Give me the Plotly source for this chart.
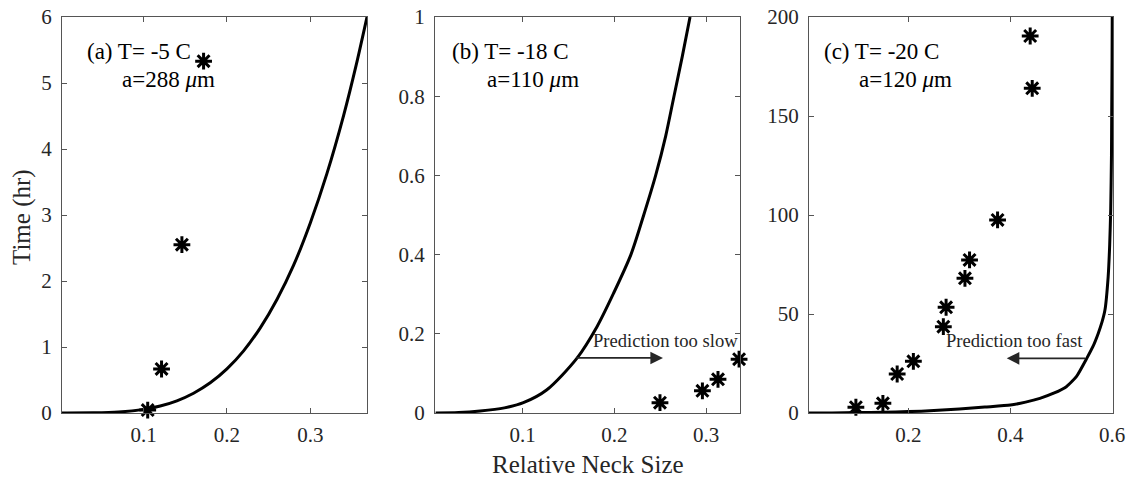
import plotly.graph_objects as go

# ---------------- data ----------------
# Panel (a) T=-5 C, a=288 um
a_curve_x = [0.002, 0.04, 0.07, 0.10, 0.12, 0.14, 0.16, 0.18, 0.20, 0.22, 0.24, 0.26, 0.28,
             0.30, 0.32, 0.34, 0.355, 0.368]
a_curve_y = [0.0, 0.002, 0.015, 0.055, 0.106, 0.185, 0.30, 0.457, 0.668, 0.942, 1.29, 1.72, 2.24,
             2.88, 3.63, 4.51, 5.27, 6.0]
a_pts_x = [0.105, 0.1216, 0.146, 0.172]
a_pts_y = [0.045, 0.667, 2.55, 5.33]

# Panel (b) T=-18 C, a=110 um
b_curve_x = [0.005, 0.03, 0.0535, 0.08, 0.1007, 0.126, 0.159, 0.181, 0.199, 0.218, 0.232, 0.245, 0.256, 0.265, 0.274, 0.2825]
b_curve_y = [0.0, 0.001, 0.005, 0.013, 0.026, 0.058, 0.138, 0.218, 0.302, 0.40, 0.50, 0.60, 0.70, 0.80, 0.90, 1.0]
b_pts_x = [0.2497, 0.296, 0.313, 0.336]
b_pts_y = [0.026, 0.056, 0.085, 0.136]

# Panel (c) T=-20 C, a=120 um
c_curve_x = [0.005, 0.05, 0.1, 0.15, 0.2, 0.25, 0.3, 0.35, 0.4, 0.43, 0.458, 0.485, 0.51, 0.53, 0.55,
             0.562, 0.5725, 0.58, 0.5857, 0.592, 0.595, 0.597, 0.5985, 0.599, 0.5997, 0.6]
c_curve_y = [0.0, 0.05, 0.2, 0.4, 0.7, 1.2, 2.0, 3.0, 4.0, 5.5, 7.4, 10.0, 13.3, 18.5, 27.6,
             33.5, 40.2, 46.0, 52.0, 68.8, 85.0, 102.5, 130.0, 153.0, 180.0, 200.0]
c_pts_x = [0.097, 0.150, 0.178, 0.2098, 0.2686, 0.274, 0.311, 0.320, 0.375, 0.439, 0.443]
c_pts_y = [2.9, 4.9, 19.7, 26.1, 43.6, 53.4, 68.0, 77.3, 97.5, 190.4, 164.0]

x_ticks_ab = [0.1, 0.2, 0.3]
x_ticks_c = [0.2, 0.4, 0.6]
y_ticks_a = [0, 1, 2, 3, 4, 5, 6]
y_ticks_b = [0, 0.2, 0.4, 0.6, 0.8, 1]
y_ticks_c = [0, 50, 100, 150, 200]

panel_labels = ["(a) T= -5 C", "(b) T= -18 C", "(c) T= -20 C"]
size_labels = ["a=288 <i>μ</i>m", "a=110 <i>μ</i>m", "a=120 <i>μ</i>m"]

# ---------------- figure ----------------
W, H = 1130, 478
FONT = "Liberation Serif, Times New Roman, serif"
AX = "#555555"
TXT = "#262626"

fig = go.Figure()

def px_x(p):
    return p / W

def px_y(p):
    return 1 - p / H

panels = [
    dict(xd=(62, 367), xr=[0.0022, 0.368], yr=[0, 6], xt=x_ticks_ab, yt=y_ticks_a,
         cx=a_curve_x, cy=a_curve_y, sx=a_pts_x, sy=a_pts_y, sm=0.8),
    dict(xd=(435, 740), xr=[0.0043, 0.337], yr=[0, 1], xt=x_ticks_ab, yt=y_ticks_b,
         cx=b_curve_x, cy=b_curve_y, sx=b_pts_x, sy=b_pts_y, sm=0.8),
    dict(xd=(809, 1113), xr=[0.005, 0.6015], yr=[0, 200], xt=x_ticks_c, yt=y_ticks_c,
         cx=c_curve_x, cy=c_curve_y, sx=c_pts_x, sy=c_pts_y, sm=0.5),
]

ydom = [px_y(413), px_y(17)]

for i, p in enumerate(panels):
    n = "" if i == 0 else str(i + 1)
    xa, ya = "x" + n, "y" + n
    fig.add_trace(go.Scatter(x=p["cx"], y=p["cy"], mode="lines", xaxis=xa, yaxis=ya,
                             line=dict(color="black", width=3, shape="spline", smoothing=p["sm"]),
                             showlegend=False))
    fig.add_trace(go.Scatter(x=p["sx"], y=p["sy"], mode="markers", xaxis=xa, yaxis=ya,
                             marker=dict(symbol="asterisk-open", size=14, color="black",
                                         line=dict(color="black", width=3)),
                             cliponaxis=False, showlegend=False))
    common = dict(showline=True, linecolor=AX, linewidth=1, mirror="ticks",
                  ticks="inside", ticklen=5, tickcolor=AX, tickwidth=1,
                  showgrid=False, zeroline=False, automargin=False,
                  tickfont=dict(family=FONT, size=21, color=TXT))
    fig.update_layout(**{
        "xaxis" + n: dict(domain=[px_x(p["xd"][0]), px_x(p["xd"][1])], range=p["xr"],
                          tickvals=p["xt"], anchor=ya, ticklabelstandoff=3, **common),
        "yaxis" + n: dict(domain=ydom, range=p["yr"], tickvals=p["yt"], anchor=xa,
                          ticklabelstandoff=5, **common),
    })

# panel text labels
label_pos = [(85, 120), (450, 485), (822, 857)]
for (l1, l2), t1, t2 in zip(label_pos, panel_labels, size_labels):
    fig.add_annotation(x=px_x(l1), y=px_y(52), xref="paper", yref="paper", text=t1,
                       showarrow=False, xanchor="left", yanchor="middle",
                       font=dict(family=FONT, size=23, color="black"))
    fig.add_annotation(x=px_x(l2), y=px_y(79), xref="paper", yref="paper", text=t2,
                       showarrow=False, xanchor="left", yanchor="middle",
                       font=dict(family=FONT, size=23, color="black"))

# arrows
fig.add_annotation(x=0.253, y=0.139, ax=0.157, ay=0.139, xref="x2", yref="y2",
                   axref="x2", ayref="y2", text="", showarrow=True,
                   arrowhead=2, arrowsize=1.4, arrowwidth=1.8, arrowcolor=TXT)
fig.add_annotation(x=px_x(665), y=px_y(340), xref="paper", yref="paper",
                   text="Prediction too slow", showarrow=False,
                   xanchor="center", yanchor="middle",
                   font=dict(family=FONT, size=18.6, color=TXT))
fig.add_annotation(x=0.393, y=27.6, ax=0.55, ay=27.6, xref="x3", yref="y3",
                   axref="x3", ayref="y3", text="", showarrow=True,
                   arrowhead=2, arrowsize=1.4, arrowwidth=1.8, arrowcolor=TXT)
fig.add_annotation(x=px_x(1014), y=px_y(340), xref="paper", yref="paper",
                   text="Prediction too fast", showarrow=False,
                   xanchor="center", yanchor="middle",
                   font=dict(family=FONT, size=18.6, color=TXT))

# axis titles
fig.add_annotation(x=px_x(22), y=px_y(217), xref="paper", yref="paper", text="Time (hr)",
                   showarrow=False, textangle=-90, xanchor="center", yanchor="middle",
                   font=dict(family=FONT, size=25, color=TXT))
fig.add_annotation(x=px_x(587.5), y=px_y(464), xref="paper", yref="paper",
                   text="Relative Neck Size", showarrow=False,
                   xanchor="center", yanchor="middle",
                   font=dict(family=FONT, size=25, color=TXT))

fig.update_layout(width=W, height=H, margin=dict(l=0, r=0, t=0, b=0),
                  paper_bgcolor="white", plot_bgcolor="white", showlegend=False)

fig.write_html("out.html", config={"displayModeBar": False},
               post_script="document.body.style.margin='0';")
